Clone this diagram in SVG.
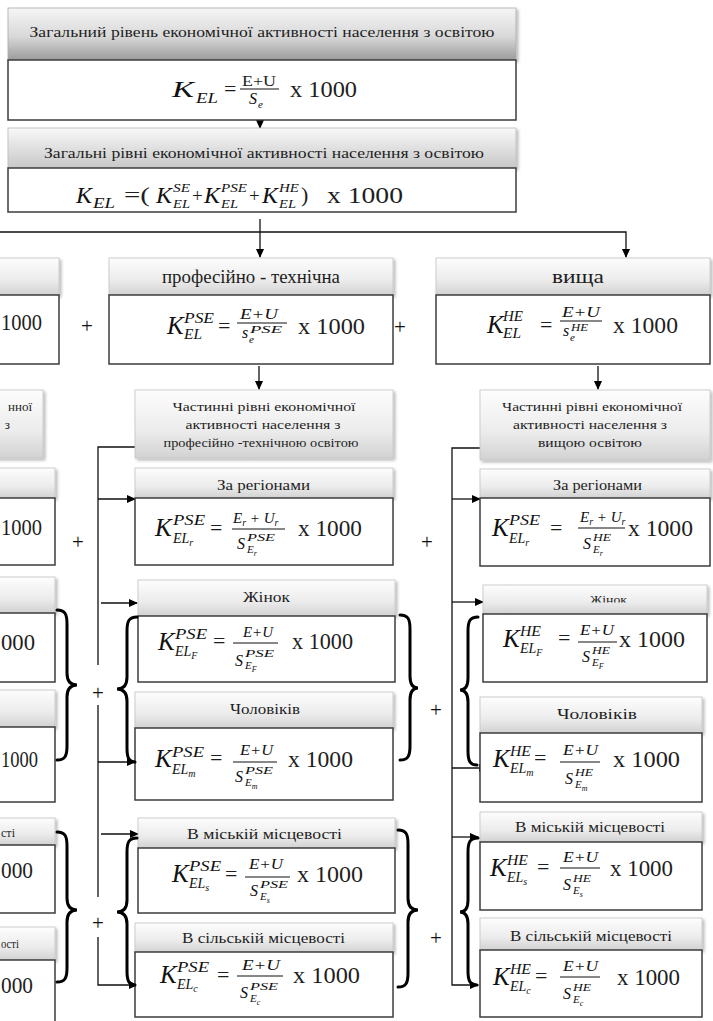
<svg xmlns="http://www.w3.org/2000/svg" width="713" height="1021" viewBox="0 0 713 1021" font-family="'Liberation Serif', serif">
<defs>
<linearGradient id="g0" x1="0" y1="0" x2="0" y2="1"><stop offset="0" stop-color="#f6f6f6"/><stop offset="0.55" stop-color="#d8d8d8"/><stop offset="1" stop-color="#9c9c9c"/></linearGradient>
<linearGradient id="g2" x1="0" y1="0" x2="0" y2="1"><stop offset="0" stop-color="#f8f8f8"/><stop offset="1" stop-color="#c8c8c8"/></linearGradient>
<linearGradient id="g1" x1="0" y1="0" x2="0" y2="1"><stop offset="0" stop-color="#fdfdfd"/><stop offset="0.6" stop-color="#ececec"/><stop offset="1" stop-color="#d2d2d2"/></linearGradient>
<filter id="sh" x="-5%" y="-15%" width="112%" height="140%"><feDropShadow dx="2" dy="2" stdDeviation="1.4" flood-color="#000" flood-opacity="0.28"/></filter>
<marker id="ah" markerWidth="9" markerHeight="8" refX="8" refY="4" orient="auto" markerUnits="userSpaceOnUse"><path d="M0,0 L9,4 L0,8 z" fill="#000"/></marker>
<clipPath id="cz"><rect x="480" y="585" width="230" height="17.5"/></clipPath>
</defs>
<style>
.hd{fill:url(#g1);stroke:#c2c2c2;stroke-width:0.8;filter:url(#sh)}
.fb{fill:#fff;stroke:#3c3c3c;stroke-width:1.5}
.t{font-family:"Liberation Serif","Times New Roman",serif;fill:#1e1e1e}
.mi{font-family:"Liberation Serif","Times New Roman",serif;font-style:italic;fill:#111}
.fl{stroke:#111;stroke-width:1.2}
.cn{stroke:#111;stroke-width:1.3;fill:none}
.br{stroke:#000;stroke-width:3;fill:none;stroke-linecap:round}
.op{font-family:"Liberation Serif",serif;font-size:21px;fill:#111;text-anchor:middle}
</style>
<rect width="713" height="1021" fill="#fff"/>

<g id="connectors">
<path class="cn" d="M260,120 V128" marker-end="url(#ah)"/>
<path class="cn" d="M260,219 V257" marker-end="url(#ah)"/>
<path class="cn" d="M0,232 H626 V257" marker-end="url(#ah)"/>
<path class="cn" d="M259,366 V389" marker-end="url(#ah)"/>
<path class="cn" d="M598,366 V389" marker-end="url(#ah)"/>
<path class="cn" d="M135,447 H98 V665"/>
<path class="cn" d="M98,705 V897"/>
<path class="cn" d="M98,937 V985 H137" marker-end="url(#ah)"/>
<path class="cn" d="M98,499 H135" marker-end="url(#ah)"/>
<path class="cn" d="M101,603 H137" marker-end="url(#ah)"/>
<path class="cn" d="M98,762 H135" marker-end="url(#ah)"/>
<path class="cn" d="M101,834 H138" marker-end="url(#ah)"/>
<path class="cn" d="M480,448 H452 V985 H478" marker-end="url(#ah)"/>
<path class="cn" d="M452,499 H480" marker-end="url(#ah)"/>
<path class="cn" d="M452,602 H483" marker-end="url(#ah)"/>
<path class="cn" d="M452,768 H487" marker-end="url(#ah)"/>
<path class="cn" d="M452,837 H478" marker-end="url(#ah)"/>
</g>

<g id="n-general">
<rect x="8" y="8" width="508" height="52" fill="url(#g0)" stroke="#aaa" stroke-width="0.8" filter="url(#sh)"/>
<text class="t" x="262" y="37" font-size="14" text-anchor="middle" textLength="465" lengthAdjust="spacingAndGlyphs">Загальний рівень економічної активності населення з освітою</text>
<rect class="fb" x="8" y="60" width="508" height="60"/>
<text class="mi" x="172" y="97" font-size="24" textLength="22" lengthAdjust="spacingAndGlyphs">K</text>
<text class="mi" x="196" y="103" font-size="14" textLength="22" lengthAdjust="spacingAndGlyphs">EL</text>
<text class="t" x="224" y="96" font-size="22">=</text>
<text class="t" x="242" y="86" font-size="14" textLength="34" lengthAdjust="spacingAndGlyphs">E+U</text>
<line class="fl" x1="240" y1="89" x2="279" y2="89"/>
<text class="mi" x="249" y="104" font-size="16">S</text>
<text class="mi" x="258" y="108" font-size="11">e</text>
<text class="t" x="290" y="97" font-size="23" textLength="67" lengthAdjust="spacingAndGlyphs">x 1000</text>
</g>

<g id="n-general-levels">
<rect x="8" y="128" width="508" height="40" fill="url(#g2)" stroke="#bbb" stroke-width="0.8" filter="url(#sh)"/>
<text class="t" x="264" y="158" font-size="14" text-anchor="middle" textLength="440" lengthAdjust="spacingAndGlyphs">Загальні рівні економічної активності населення з освітою</text>
<rect class="fb" x="8" y="168" width="508" height="44"/>
<text class="mi" x="76" y="203" font-size="24">K</text>
<text class="mi" x="93" y="208" font-size="14" textLength="22" lengthAdjust="spacingAndGlyphs">EL</text>
<text class="t" x="124" y="202" font-size="22" textLength="26" lengthAdjust="spacingAndGlyphs">=(</text>
<text class="mi" x="156" y="203" font-size="24">K</text>
<text class="mi" x="173" y="192" font-size="13" textLength="17" lengthAdjust="spacingAndGlyphs">SE</text>
<text class="mi" x="173" y="208" font-size="13" textLength="17" lengthAdjust="spacingAndGlyphs">EL</text>
<text class="t" x="192" y="202" font-size="19">+</text>
<text class="mi" x="204" y="203" font-size="24">K</text>
<text class="mi" x="221" y="192" font-size="13" textLength="26" lengthAdjust="spacingAndGlyphs">PSE</text>
<text class="mi" x="221" y="208" font-size="13" textLength="17" lengthAdjust="spacingAndGlyphs">EL</text>
<text class="t" x="249" y="202" font-size="19">+</text>
<text class="mi" x="262" y="203" font-size="24">K</text>
<text class="mi" x="279" y="192" font-size="13" textLength="20" lengthAdjust="spacingAndGlyphs">HE</text>
<text class="mi" x="279" y="208" font-size="13" textLength="17" lengthAdjust="spacingAndGlyphs">EL</text>
<text class="t" x="301" y="202" font-size="22">)</text>
<text class="t" x="327" y="203" font-size="23" textLength="76" lengthAdjust="spacingAndGlyphs">x 1000</text>
</g>

<g id="n-se">
<rect class="hd" x="-20" y="258" width="79" height="37"/>
<rect class="fb" x="-20" y="295" width="79" height="69"/>
<text class="t" x="1" y="330" font-size="23" textLength="41" lengthAdjust="spacingAndGlyphs">1000</text>
</g>

<g id="n-pse">
<rect class="hd" x="109" y="258" width="284" height="37"/>
<text class="t" x="162" y="283" font-size="19" textLength="178" lengthAdjust="spacingAndGlyphs">професійно - технічна</text>
<rect class="fb" x="109" y="295" width="284" height="69"/>
<text class="mi" x="167" y="334" font-size="25">K</text>
<text class="mi" x="184" y="323" font-size="14" textLength="30" lengthAdjust="spacingAndGlyphs">PSE</text>
<text class="mi" x="184" y="339" font-size="14" textLength="18" lengthAdjust="spacingAndGlyphs">EL</text>
<text class="t" x="218" y="333" font-size="22">=</text>
<text class="mi" x="240" y="319" font-size="15" textLength="38" lengthAdjust="spacingAndGlyphs">E+U</text>
<line class="fl" x1="237" y1="323" x2="287" y2="323"/>
<text class="mi" x="242" y="338" font-size="16">s</text>
<text class="mi" x="250" y="333" font-size="11" textLength="32" lengthAdjust="spacingAndGlyphs">PSE</text>
<text class="mi" x="249" y="343" font-size="11">e</text>
<text class="t" x="298" y="334" font-size="23" textLength="67" lengthAdjust="spacingAndGlyphs">x 1000</text>
</g>

<g id="n-he">
<rect class="hd" x="436" y="258" width="274" height="37"/>
<text class="t" x="552" y="283" font-size="19" textLength="52" lengthAdjust="spacingAndGlyphs">вища</text>
<rect class="fb" x="436" y="295" width="274" height="69"/>
<text class="mi" x="487" y="333" font-size="25">K</text>
<text class="mi" x="503" y="321" font-size="14" textLength="20" lengthAdjust="spacingAndGlyphs">HE</text>
<text class="mi" x="503" y="338" font-size="14" textLength="18" lengthAdjust="spacingAndGlyphs">EL</text>
<text class="t" x="540" y="332" font-size="22">=</text>
<text class="mi" x="562" y="317" font-size="15" textLength="38" lengthAdjust="spacingAndGlyphs">E+U</text>
<line class="fl" x1="560" y1="321" x2="602" y2="321"/>
<text class="mi" x="563" y="336" font-size="16">s</text>
<text class="mi" x="571" y="331" font-size="11" textLength="17" lengthAdjust="spacingAndGlyphs">HE</text>
<text class="mi" x="570" y="341" font-size="11">e</text>
<text class="t" x="613" y="333" font-size="23" textLength="65" lengthAdjust="spacingAndGlyphs">x 1000</text>
</g>

<g id="n-se-partial">
<rect class="hd" x="-20" y="390" width="63" height="68"/>
<text class="t" x="32" y="411" font-size="13" text-anchor="end">нної</text>
<text class="t" x="10" y="429" font-size="13" text-anchor="end">з</text>
</g>

<g id="n-pse-partial">
<rect class="hd" x="135" y="390" width="258" height="68"/>
<text class="t" x="264" y="411" font-size="13" text-anchor="middle" textLength="183" lengthAdjust="spacingAndGlyphs">Частинні рівні економічної</text>
<text class="t" x="263" y="429" font-size="13" text-anchor="middle" textLength="155" lengthAdjust="spacingAndGlyphs">активності населення з</text>
<text class="t" x="261" y="447" font-size="13" text-anchor="middle" textLength="195" lengthAdjust="spacingAndGlyphs">професійно -технічною освітою</text>
</g>

<g id="n-he-partial">
<rect class="hd" x="480" y="390" width="230" height="70"/>
<text class="t" x="592" y="411" font-size="13" text-anchor="middle" textLength="180" lengthAdjust="spacingAndGlyphs">Частинні рівні економічної</text>
<text class="t" x="590" y="429" font-size="13" text-anchor="middle" textLength="154" lengthAdjust="spacingAndGlyphs">активності населення з</text>
<text class="t" x="590" y="447" font-size="13" text-anchor="middle" textLength="104" lengthAdjust="spacingAndGlyphs">вищою освітою</text>
</g>

<g id="n-se-sub">
<rect class="hd" x="-20" y="468" width="75" height="30"/>
<rect class="fb" x="-20" y="498" width="75" height="67"/>
<text class="t" x="1" y="535" font-size="23" textLength="41" lengthAdjust="spacingAndGlyphs">1000</text>
<rect class="hd" x="-20" y="577" width="75" height="36"/>
<rect class="fb" x="-20" y="613" width="75" height="69"/>
<text class="t" x="1" y="650" font-size="23" textLength="34" lengthAdjust="spacingAndGlyphs">000</text>
<rect class="hd" x="-20" y="690" width="75" height="37"/>
<rect class="fb" x="-20" y="727" width="75" height="75"/>
<text class="t" x="1" y="767" font-size="23" textLength="37" lengthAdjust="spacingAndGlyphs">1000</text>
<rect class="hd" x="-20" y="818" width="75" height="27"/>
<text class="t" x="1" y="837" font-size="13" textLength="14" lengthAdjust="spacingAndGlyphs">сті</text>
<rect class="fb" x="-20" y="845" width="75" height="68"/>
<text class="t" x="1" y="878" font-size="23" textLength="32" lengthAdjust="spacingAndGlyphs">000</text>
<rect class="hd" x="-20" y="927" width="75" height="33"/>
<text class="t" x="1" y="948" font-size="13" textLength="18" lengthAdjust="spacingAndGlyphs">ості</text>
<rect class="fb" x="-20" y="960" width="75" height="70"/>
<text class="t" x="1" y="993" font-size="23" textLength="32" lengthAdjust="spacingAndGlyphs">000</text>
</g>

<g id="n-pse-region">
<rect class="hd" x="135" y="468" width="258" height="30"/>
<text class="t" x="217" y="490" font-size="14" textLength="93" lengthAdjust="spacingAndGlyphs">За регіонами</text>
<rect class="fb" x="135" y="498" width="258" height="67"/>
<text class="mi" x="155" y="536" font-size="25">K</text>
<text class="mi" x="173" y="525" font-size="14" textLength="32" lengthAdjust="spacingAndGlyphs">PSE</text>
<text class="mi" x="173" y="543" font-size="14">EL<tspan font-size="10" dy="3">r</tspan></text>
<text class="t" x="210" y="535" font-size="22">=</text>
<text class="mi" x="233" y="523" font-size="15">E<tspan font-size="10" dy="3">r</tspan><tspan dy="-3"> + U</tspan><tspan font-size="10" dy="3">r</tspan></text>
<line class="fl" x1="232" y1="529" x2="285" y2="529"/>
<text class="mi" x="237" y="549" font-size="16">S</text>
<text class="mi" x="247" y="541" font-size="11" textLength="28" lengthAdjust="spacingAndGlyphs">PSE</text>
<text class="mi" x="247" y="553" font-size="11">E<tspan font-size="8" dy="3">r</tspan></text>
<text class="t" x="298" y="536" font-size="23" textLength="64" lengthAdjust="spacingAndGlyphs">x 1000</text>
</g>

<g id="n-pse-women">
<rect class="hd" x="138" y="580" width="257" height="36"/>
<text class="t" x="243" y="602" font-size="15" textLength="47" lengthAdjust="spacingAndGlyphs">Жінок</text>
<rect class="fb" x="138" y="616" width="257" height="66"/>
<text class="mi" x="158" y="650" font-size="25">K</text>
<text class="mi" x="175" y="639" font-size="14" textLength="32" lengthAdjust="spacingAndGlyphs">PSE</text>
<text class="mi" x="175" y="656" font-size="14">EL<tspan font-size="10" dy="3">F</tspan></text>
<text class="t" x="213" y="648" font-size="22">=</text>
<text class="mi" x="243" y="637" font-size="15" textLength="30" lengthAdjust="spacingAndGlyphs">E+U</text>
<line class="fl" x1="233" y1="643" x2="278" y2="643"/>
<text class="mi" x="235" y="666" font-size="16">S</text>
<text class="mi" x="245" y="657" font-size="11" textLength="29" lengthAdjust="spacingAndGlyphs">PSE</text>
<text class="mi" x="245" y="669" font-size="11">E<tspan font-size="8" dy="3">F</tspan></text>
<text class="t" x="292" y="649" font-size="23" textLength="61" lengthAdjust="spacingAndGlyphs">x 1000</text>
</g>

<g id="n-pse-men">
<rect class="hd" x="135" y="692" width="258" height="36"/>
<text class="t" x="230" y="714" font-size="15" textLength="70" lengthAdjust="spacingAndGlyphs">Чоловіків</text>
<rect class="fb" x="135" y="728" width="258" height="72"/>
<text class="mi" x="155" y="767" font-size="25">K</text>
<text class="mi" x="172" y="757" font-size="14" textLength="32" lengthAdjust="spacingAndGlyphs">PSE</text>
<text class="mi" x="172" y="774" font-size="14">EL<tspan font-size="10" dy="3">m</tspan></text>
<text class="t" x="210" y="765" font-size="22">=</text>
<text class="mi" x="240" y="755" font-size="15" textLength="33" lengthAdjust="spacingAndGlyphs">E+U</text>
<line class="fl" x1="233" y1="762" x2="277" y2="762"/>
<text class="mi" x="235" y="782" font-size="16">S</text>
<text class="mi" x="245" y="774" font-size="11" textLength="28" lengthAdjust="spacingAndGlyphs">PSE</text>
<text class="mi" x="245" y="786" font-size="11">E<tspan font-size="8" dy="3">m</tspan></text>
<text class="t" x="288" y="767" font-size="23" textLength="65" lengthAdjust="spacingAndGlyphs">x 1000</text>
</g>

<g id="n-pse-urban">
<rect class="hd" x="138" y="818" width="257" height="30"/>
<text class="t" x="187" y="839" font-size="15" textLength="155" lengthAdjust="spacingAndGlyphs">В міській місцевості</text>
<rect class="fb" x="138" y="848" width="257" height="65"/>
<text class="mi" x="172" y="882" font-size="25">K</text>
<text class="mi" x="189" y="871" font-size="14" textLength="32" lengthAdjust="spacingAndGlyphs">PSE</text>
<text class="mi" x="189" y="888" font-size="14">EL<tspan font-size="10" dy="3">s</tspan></text>
<text class="t" x="225" y="881" font-size="22">=</text>
<text class="mi" x="249" y="869" font-size="15" textLength="34" lengthAdjust="spacingAndGlyphs">E+U</text>
<line class="fl" x1="245" y1="877" x2="290" y2="877"/>
<text class="mi" x="250" y="896" font-size="16">S</text>
<text class="mi" x="260" y="888" font-size="11" textLength="28" lengthAdjust="spacingAndGlyphs">PSE</text>
<text class="mi" x="260" y="900" font-size="11">E<tspan font-size="8" dy="3">s</tspan></text>
<text class="t" x="297" y="882" font-size="23" textLength="66" lengthAdjust="spacingAndGlyphs">x 1000</text>
</g>

<g id="n-pse-rural">
<rect class="hd" x="135" y="923" width="258" height="29"/>
<text class="t" x="182" y="943" font-size="15" textLength="163" lengthAdjust="spacingAndGlyphs">В сільській місцевості</text>
<rect class="fb" x="135" y="952" width="258" height="65"/>
<text class="mi" x="160" y="983" font-size="25">K</text>
<text class="mi" x="177" y="972" font-size="14" textLength="32" lengthAdjust="spacingAndGlyphs">PSE</text>
<text class="mi" x="177" y="989" font-size="14">EL<tspan font-size="10" dy="3">c</tspan></text>
<text class="t" x="217" y="982" font-size="22">=</text>
<text class="mi" x="242" y="970" font-size="15" textLength="38" lengthAdjust="spacingAndGlyphs">E+U</text>
<line class="fl" x1="237" y1="976" x2="283" y2="976"/>
<text class="mi" x="240" y="998" font-size="16">S</text>
<text class="mi" x="250" y="990" font-size="11" textLength="28" lengthAdjust="spacingAndGlyphs">PSE</text>
<text class="mi" x="250" y="1002" font-size="11">E<tspan font-size="8" dy="3">c</tspan></text>
<text class="t" x="293" y="983" font-size="23" textLength="67" lengthAdjust="spacingAndGlyphs">x 1000</text>
</g>

<g id="n-he-region">
<rect class="hd" x="480" y="469" width="230" height="29"/>
<text class="t" x="553" y="490" font-size="14" textLength="89" lengthAdjust="spacingAndGlyphs">За регіонами</text>
<rect class="fb" x="480" y="498" width="230" height="68"/>
<text class="mi" x="492" y="536" font-size="25">K</text>
<text class="mi" x="509" y="525" font-size="14" textLength="31" lengthAdjust="spacingAndGlyphs">PSE</text>
<text class="mi" x="509" y="543" font-size="14">EL<tspan font-size="10" dy="3">r</tspan></text>
<text class="t" x="550" y="535" font-size="22">=</text>
<text class="mi" x="580" y="522" font-size="15">E<tspan font-size="10" dy="3">r</tspan><tspan dy="-3"> + U</tspan><tspan font-size="10" dy="3">r</tspan></text>
<line class="fl" x1="578" y1="528" x2="625" y2="528"/>
<text class="mi" x="583" y="549" font-size="16">S</text>
<text class="mi" x="593" y="541" font-size="11" textLength="18" lengthAdjust="spacingAndGlyphs">HE</text>
<text class="mi" x="593" y="553" font-size="11">E<tspan font-size="8" dy="3">r</tspan></text>
<text class="t" x="628" y="536" font-size="23" textLength="65" lengthAdjust="spacingAndGlyphs">x 1000</text>
</g>

<g id="n-he-women">
<rect class="hd" x="483" y="585" width="224" height="29"/>
<text class="t" x="590" y="604" font-size="13" textLength="37" lengthAdjust="spacingAndGlyphs" clip-path="url(#cz)">Жінок</text>
<rect class="fb" x="483" y="614" width="224" height="68"/>
<text class="mi" x="503" y="647" font-size="25">K</text>
<text class="mi" x="520" y="636" font-size="14" textLength="21" lengthAdjust="spacingAndGlyphs">HE</text>
<text class="mi" x="520" y="653" font-size="14">EL<tspan font-size="10" dy="3">F</tspan></text>
<text class="t" x="558" y="645" font-size="22">=</text>
<text class="mi" x="580" y="635" font-size="15" textLength="34" lengthAdjust="spacingAndGlyphs">E+U</text>
<line class="fl" x1="578" y1="642" x2="617" y2="642"/>
<text class="mi" x="582" y="662" font-size="16">S</text>
<text class="mi" x="592" y="654" font-size="11" textLength="18" lengthAdjust="spacingAndGlyphs">HE</text>
<text class="mi" x="592" y="666" font-size="11">E<tspan font-size="8" dy="3">F</tspan></text>
<text class="t" x="619" y="647" font-size="23" textLength="66" lengthAdjust="spacingAndGlyphs">x 1000</text>
</g>

<g id="n-he-men">
<rect class="hd" x="480" y="697" width="222" height="36"/>
<text class="t" x="557" y="719" font-size="15" textLength="80" lengthAdjust="spacingAndGlyphs">Чоловіків</text>
<rect class="fb" x="480" y="733" width="222" height="69"/>
<text class="mi" x="493" y="767" font-size="25">K</text>
<text class="mi" x="510" y="756" font-size="14" textLength="21" lengthAdjust="spacingAndGlyphs">HE</text>
<text class="mi" x="510" y="773" font-size="14">EL<tspan font-size="10" dy="3">m</tspan></text>
<text class="t" x="534" y="765" font-size="22">=</text>
<text class="mi" x="563" y="755" font-size="15" textLength="35" lengthAdjust="spacingAndGlyphs">E+U</text>
<line class="fl" x1="560" y1="762" x2="600" y2="762"/>
<text class="mi" x="565" y="784" font-size="16">S</text>
<text class="mi" x="575" y="776" font-size="11" textLength="18" lengthAdjust="spacingAndGlyphs">HE</text>
<text class="mi" x="575" y="788" font-size="11">E<tspan font-size="8" dy="3">m</tspan></text>
<text class="t" x="613" y="767" font-size="23" textLength="67" lengthAdjust="spacingAndGlyphs">x 1000</text>
</g>

<g id="n-he-urban">
<rect class="hd" x="480" y="812" width="222" height="30"/>
<text class="t" x="515" y="832" font-size="14" textLength="150" lengthAdjust="spacingAndGlyphs">В міській місцевості</text>
<rect class="fb" x="480" y="842" width="222" height="68"/>
<text class="mi" x="490" y="876" font-size="25">K</text>
<text class="mi" x="507" y="865" font-size="14" textLength="21" lengthAdjust="spacingAndGlyphs">HE</text>
<text class="mi" x="507" y="882" font-size="14">EL<tspan font-size="10" dy="3">s</tspan></text>
<text class="t" x="537" y="874" font-size="22">=</text>
<text class="mi" x="563" y="862" font-size="15" textLength="35" lengthAdjust="spacingAndGlyphs">E+U</text>
<line class="fl" x1="560" y1="868" x2="600" y2="868"/>
<text class="mi" x="563" y="890" font-size="16">S</text>
<text class="mi" x="573" y="882" font-size="11" textLength="18" lengthAdjust="spacingAndGlyphs">HE</text>
<text class="mi" x="573" y="894" font-size="11">E<tspan font-size="8" dy="3">s</tspan></text>
<text class="t" x="610" y="876" font-size="23" textLength="63" lengthAdjust="spacingAndGlyphs">x 1000</text>
</g>

<g id="n-he-rural">
<rect class="hd" x="480" y="918" width="222" height="32"/>
<text class="t" x="510" y="941" font-size="15" textLength="162" lengthAdjust="spacingAndGlyphs">В сільській місцевості</text>
<rect class="fb" x="480" y="950" width="222" height="67"/>
<text class="mi" x="493" y="985" font-size="25">K</text>
<text class="mi" x="510" y="974" font-size="14" textLength="21" lengthAdjust="spacingAndGlyphs">HE</text>
<text class="mi" x="510" y="991" font-size="14">EL<tspan font-size="10" dy="3">c</tspan></text>
<text class="t" x="535" y="983" font-size="22">=</text>
<text class="mi" x="563" y="971" font-size="15" textLength="35" lengthAdjust="spacingAndGlyphs">E+U</text>
<line class="fl" x1="560" y1="977" x2="600" y2="977"/>
<text class="mi" x="563" y="999" font-size="16">S</text>
<text class="mi" x="573" y="991" font-size="11" textLength="18" lengthAdjust="spacingAndGlyphs">HE</text>
<text class="mi" x="573" y="1003" font-size="11">E<tspan font-size="8" dy="3">c</tspan></text>
<text class="t" x="617" y="985" font-size="23" textLength="63" lengthAdjust="spacingAndGlyphs">x 1000</text>
</g>

<g id="braces">
<path class="br" d="M57,610 C65,610 67,614 67,624 L67,673 C67,681 70,685 77,685 C70,685 67,689 67,697 L67,746 C67,756 65,760 57,760"/>
<path class="br" d="M57,832 C65,832 67,836 67,846 L67,898 C67,906 70,910 77,910 C70,910 67,914 67,922 L67,968 C67,978 65,982 57,982"/>
<path class="br" d="M137,617 C129,617 127,621 127,631 L127,677 C127,685 124,689 117,689 C124,689 127,693 127,701 L127,748 C127,758 129,762 135,762"/>
<path class="br" d="M137,838 C129,838 127,842 127,852 L127,900 C127,908 124,912 117,912 C124,912 127,916 127,924 L127,971 C127,981 129,985 135,985"/>
<path class="br" d="M400,615 C408,615 410,619 410,629 L410,676 C410,684 413,688 418,688 C413,688 410,692 410,700 L410,746 C410,756 408,760 400,760"/>
<path class="br" d="M398,830 C406,830 408,834 408,844 L408,898 C408,906 411,910 418,910 C411,910 408,914 408,922 L408,973 C408,983 406,987 398,987"/>
<path class="br" d="M478,617 C470,617 468,621 468,631 L468,678 C468,686 465,690 460,690 C465,690 468,694 468,702 L468,751 C468,761 470,765 477,765"/>
<path class="br" d="M478,838 C470,838 468,842 468,852 L468,900 C468,908 465,912 460,912 C465,912 468,916 468,924 L468,971 C468,981 470,985 477,985"/>
</g>

<g id="operators">
<text class="op" x="87" y="333">+</text>
<text class="op" x="400" y="334">+</text>
<text class="op" x="78" y="549">+</text>
<text class="op" x="427" y="549">+</text>
<text class="op" x="98" y="700">+</text>
<text class="op" x="436" y="717">+</text>
<text class="op" x="98" y="930">+</text>
<text class="op" x="436" y="945">+</text>
</g>
</svg>
